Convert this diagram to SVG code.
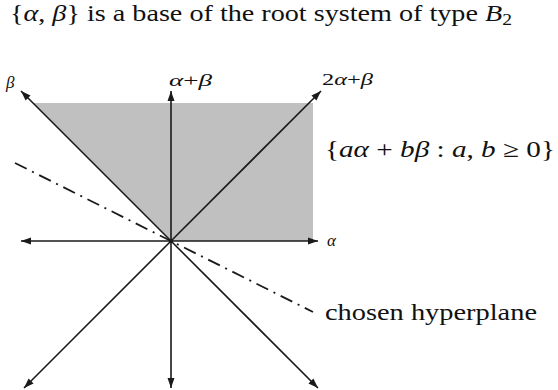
<svg xmlns="http://www.w3.org/2000/svg" width="558" height="390" viewBox="0 0 558 390">
  <style>
    text { font-family: 'Liberation Serif', 'Times New Roman', 'DejaVu Serif', serif; fill: #111; }
    .i { font-style: italic; }
    .ax { stroke: #1a1a1a; stroke-width: 1.6; fill: none; marker-end: url(#ah); }
    .hp { stroke: #1a1a1a; stroke-width: 1.8; fill: none; stroke-dasharray: 13 6 2 6; }
  </style>
  <defs>
    <marker id="ah" markerUnits="userSpaceOnUse" markerWidth="11" markerHeight="8" refX="10" refY="4" orient="auto">
      <path d="M0,0.5 L10,4 L0,7.5 Z" fill="#1a1a1a"/>
    </marker>
  </defs>
  <rect width="558" height="390" fill="#fff"/>

  <text font-family="Liberation Serif, serif" x="10" y="21" font-size="23" textLength="502" lengthAdjust="spacingAndGlyphs">{<tspan class="i">α</tspan>, <tspan class="i">β</tspan>} is a base of the root system of type <tspan class="i">B</tspan><tspan font-size="16" dy="4">2</tspan></text>

  <g id="cone">
    <polygon points="171,241 33,103 313,103 313,241" fill="#c0c0c0"/>
    <text font-family="Liberation Serif, serif" x="325" y="157" font-size="23" textLength="230" lengthAdjust="spacingAndGlyphs">{<tspan class="i">aα</tspan> + <tspan class="i">bβ</tspan> : <tspan class="i">a</tspan>, <tspan class="i">b</tspan> ≥ 0}</text>
  </g>

  <g id="hyperplane">
    <line class="hp" x1="15" y1="163" x2="313" y2="312"/>
    <text font-family="Liberation Serif, serif" x="325" y="320" font-size="23" textLength="212" lengthAdjust="spacingAndGlyphs">chosen hyperplane</text>
  </g>

  <g id="connectors">
    <line id="r-alpha" class="ax" x1="171" y1="241" x2="318" y2="241"/>
    <line id="r-malpha" class="ax" x1="171" y1="241" x2="21" y2="241"/>
    <line id="r-apb" class="ax" x1="171" y1="241" x2="171" y2="91"/>
    <line id="r-mapb" class="ax" x1="171" y1="241" x2="171" y2="388"/>
    <line id="r-beta" class="ax" x1="171" y1="241" x2="21" y2="91"/>
    <line id="r-mbeta" class="ax" x1="171" y1="241" x2="318" y2="388"/>
    <line id="r-2apb" class="ax" x1="171" y1="241" x2="321" y2="91"/>
    <line id="r-m2apb" class="ax" x1="171" y1="241" x2="24" y2="388"/>
    <circle cx="171" cy="241" r="2" fill="#1a1a1a"/>
  </g>

  <g id="labels">
    <text class="i" x="6" y="88" font-size="17">β</text>
    <text x="169" y="86" font-size="17" textLength="43" lengthAdjust="spacingAndGlyphs"><tspan class="i">α</tspan>+<tspan class="i">β</tspan></text>
    <text x="322" y="85" font-size="17" textLength="51" lengthAdjust="spacingAndGlyphs">2<tspan class="i">α</tspan>+<tspan class="i">β</tspan></text>
    <text class="i" x="327" y="246" font-size="17">α</text>
  </g>
</svg>
